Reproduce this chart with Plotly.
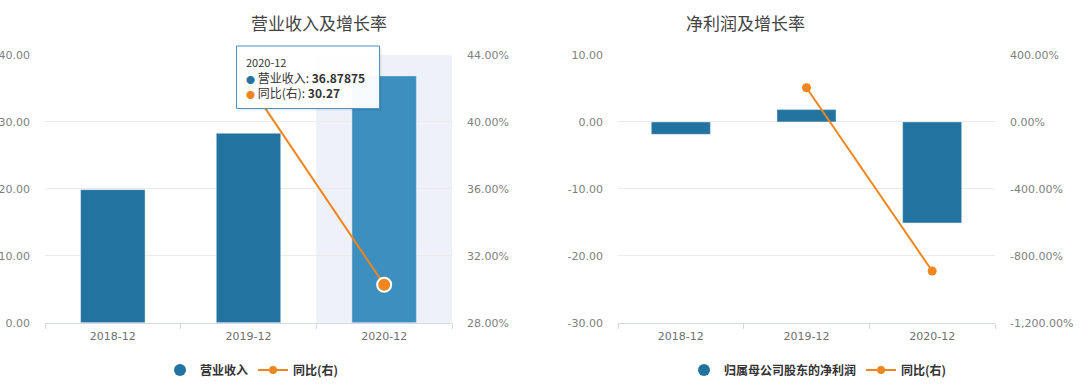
import plotly.graph_objects as go

# ---------------- data ----------------
categories = ["2018-12", "2019-12", "2020-12"]
revenue = [19.88, 28.31, 36.87875]          # 营业收入
revenue_yoy = [None, 42.3, 30.27]            # 同比(右) %
profit = [-1.86, 1.84, -15.1]                # 归属母公司股东的净利润
profit_yoy = [None, 204.5, -891.0]           # 同比(右) %

left_ticks = [0, 10, 20, 30, 40]
left_ticks_r = [28, 32, 36, 40, 44]
right_ticks = [-30, -20, -10, 0, 10]
right_ticks_r = [-1200, -800, -400, 0, 400]

title_left = "营业收入及增长率"
title_right = "净利润及增长率"
name_rev = "营业收入"
name_profit = "归属母公司股东的净利润"
name_yoy = "同比(右)"

# ---------------- style ----------------
W, H = 1080, 388
BLUE = "#2273a0"
BLUE_HI = "#3d8fbf"
ORANGE = "#f0861d"
BAND = "#eef1f9"
GRID = "#ebebeb"
AXIS = "#d3d8e0"
TICKC = "#7f7f7f"
NUMFONT = "Verdana, DejaVu Sans, sans-serif"
CJK = "Noto Sans CJK SC, sans-serif"
hi = 2  # highlighted (hovered) category in left chart


def px(x):
    return x / W


def py(y):
    return 1 - y / H


top, bottom = 55, 322.7
ydom = [py(bottom), py(top)]
x1dom = [px(45), px(452)]
x2dom = [px(618), px(995)]

n = len(categories)
fig = go.Figure()

# left chart
fig.add_trace(go.Bar(
    x=categories, y=revenue, xaxis="x", yaxis="y", width=0.475,
    marker=dict(color=[BLUE_HI if i == hi else BLUE for i in range(n)]),
    showlegend=False, hoverinfo="skip"))
fig.add_trace(go.Scatter(
    x=categories, y=revenue_yoy, xaxis="x", yaxis="y2", mode="lines",
    line=dict(color=ORANGE, width=2), showlegend=False, hoverinfo="skip"))
fig.add_trace(go.Scatter(
    x=categories, y=revenue_yoy, xaxis="x", yaxis="y2", mode="markers",
    marker=dict(color=[ORANGE] * n,
                size=[14 if i == hi else 9 for i in range(n)],
                line=dict(color=["#ffffff" if i == hi else ORANGE for i in range(n)], width=2),
                opacity=1),
    showlegend=False, hoverinfo="skip"))

# right chart
fig.add_trace(go.Bar(
    x=categories, y=profit, xaxis="x2", yaxis="y3", width=0.47,
    marker=dict(color=BLUE), showlegend=False, hoverinfo="skip"))
fig.add_trace(go.Scatter(
    x=categories, y=profit_yoy, xaxis="x2", yaxis="y4", mode="lines+markers",
    line=dict(color=ORANGE, width=2), marker=dict(color=ORANGE, size=9),
    showlegend=False, hoverinfo="skip"))

# legend-only entries
fig.add_trace(go.Scatter(x=[None], y=[None], xaxis="x", yaxis="y", mode="markers", name=name_rev,
                         marker=dict(symbol="circle", size=12, color=BLUE), legend="legend"))
fig.add_trace(go.Scatter(x=[None], y=[None], xaxis="x", yaxis="y", mode="lines+markers", name=name_yoy,
                         line=dict(color=ORANGE, width=2), marker=dict(size=8, color=ORANGE), legend="legend"))
fig.add_trace(go.Scatter(x=[None], y=[None], xaxis="x2", yaxis="y3", mode="markers", name=name_profit,
                         marker=dict(symbol="circle", size=12, color=BLUE), legend="legend2"))
fig.add_trace(go.Scatter(x=[None], y=[None], xaxis="x2", yaxis="y3", mode="lines+markers", name=name_yoy,
                         line=dict(color=ORANGE, width=2), marker=dict(size=8, color=ORANGE), legend="legend2"))

xcommon = dict(type="category", showgrid=False, showline=True, linecolor=AXIS, linewidth=1,
               ticks="outside", tickson="boundaries", ticklen=5, tickcolor=AXIS,
               ticklabelstandoff=3,
               tickfont=dict(family=NUMFONT, size=11, color="#6f6f6f"),
               range=[-0.5, n - 0.5], fixedrange=True, automargin=False)
ycommon = dict(showline=False, zeroline=False, ticks="", ticklabelstandoff=14,
               tickfont=dict(family=NUMFONT, size=11, color=TICKC), automargin=False, fixedrange=True)

legend_font = dict(family=CJK, size=12, color="#333", weight="bold")
fig.update_layout(
    width=W, height=H, margin=dict(l=0, r=0, t=0, b=0),
    paper_bgcolor="white", plot_bgcolor="rgba(0,0,0,0)",
    xaxis=dict(domain=x1dom, anchor="y", **xcommon),
    yaxis=dict(domain=ydom, anchor="x", range=[left_ticks[0], left_ticks[-1]],
               tickvals=left_ticks, ticktext=[f"{v:.2f}" for v in left_ticks],
               showgrid=True, gridcolor=GRID, gridwidth=1, **ycommon),
    yaxis2=dict(overlaying="y", anchor="x", side="right", range=[left_ticks_r[0], left_ticks_r[-1]],
                tickvals=left_ticks_r, ticktext=[f"{v:.2f}%" for v in left_ticks_r],
                showgrid=False, **ycommon),
    xaxis2=dict(domain=x2dom, anchor="y3", **xcommon),
    yaxis3=dict(domain=ydom, anchor="x2", range=[right_ticks[0], right_ticks[-1]],
                tickvals=right_ticks, ticktext=[f"{v:,.2f}" for v in right_ticks],
                showgrid=True, gridcolor=GRID, gridwidth=1, **ycommon),
    yaxis4=dict(overlaying="y3", anchor="x2", side="right", range=[right_ticks_r[0], right_ticks_r[-1]],
                tickvals=right_ticks_r, ticktext=[f"{v:,.2f}%" for v in right_ticks_r],
                showgrid=False, **ycommon),
    legend=dict(orientation="h", x=px(252), xanchor="center", y=py(370), yanchor="middle",
                font=legend_font, itemwidth=30, bgcolor="rgba(0,0,0,0)"),
    legend2=dict(orientation="h", x=px(818), xanchor="center", y=py(370), yanchor="middle",
                 font=legend_font, itemwidth=30, bgcolor="rgba(0,0,0,0)"),
    showlegend=True,
    hovermode=False,
)

# hover highlight band for left chart
fig.add_shape(type="rect", xref="x", yref="y domain", x0=hi - 0.5, x1=hi + 0.5, y0=0, y1=1,
              fillcolor=BAND, line=dict(width=0), layer="below")

# titles
fig.add_annotation(text=title_left, x=(x1dom[0] + x1dom[1]) / 2, y=py(22), xref="paper", yref="paper",
                   showarrow=False, font=dict(family=CJK, size=17, color="#444"), yanchor="middle")
fig.add_annotation(text=title_right, x=(x2dom[0] + x2dom[1]) / 2, y=py(22), xref="paper", yref="paper",
                   showarrow=False, font=dict(family=CJK, size=17, color="#444"), yanchor="middle")

# tooltip box
tx0, tx1, ty0, ty1 = 236.5, 379.5, 46, 108.5
fig.add_shape(type="rect", xref="paper", yref="paper", x0=px(tx0 + 2), x1=px(tx1 + 2),
              y0=py(ty1 + 2), y1=py(ty0 + 2),
              fillcolor="rgba(0,0,0,0.07)", line=dict(width=0), layer="above")
fig.add_shape(type="rect", xref="paper", yref="paper", x0=px(tx0), x1=px(tx1), y0=py(ty1), y1=py(ty0),
              fillcolor="rgba(255,255,255,0.96)", line=dict(color="#4a92c2", width=1), layer="above")
tip = (f"<span style='font-size:11px'>{categories[hi]}</span><br>"
       f"<span style='color:{BLUE};font-size:9px'>●</span> {name_rev}: <b>{revenue[hi]}</b><br>"
       f"<span style='color:{ORANGE};font-size:9px'>●</span> {name_yoy}: <b>{revenue_yoy[hi]}</b>")
fig.add_annotation(text=tip, x=px(244), y=py(77.5), xref="paper", yref="paper",
                   xanchor="left", yanchor="middle", align="left", showarrow=False,
                   font=dict(family=CJK, size=12, color="#333"))

fig.write_html("out.html", config={"displayModeBar": False},
               post_script="document.body.style.margin='0px';document.body.style.overflow='hidden';")
